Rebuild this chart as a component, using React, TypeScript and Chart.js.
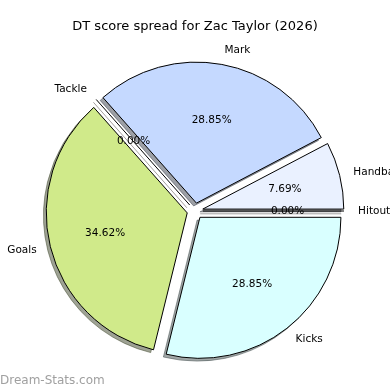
import React, { useEffect, useRef } from "react";
import { Chart, registerables } from "chart.js";

Chart.register(...registerables);

const TITLE = "DT score spread for Zac Taylor (2026)";
const WATERMARK = "Dream-Stats.com";
// Slices listed clockwise on screen starting at 3 o'clock
const categories = ["Kicks", "Goals", "Tackle", "Mark", "Handball", "Hitout"];
const values = [7.5, 9, 0, 7.5, 2, 0];
const colors = ["#d9ffff", "#d0ea8a", "#f2d4d4", "#c5d9ff", "#eaf1ff", "#e4e4e4"];

const EXPLODE = 8;
const SHADOW = 2.8;
const FONT = "'DejaVu Sans', sans-serif";

function hexToRgb(h: string) {
  const n = parseInt(h.slice(1), 16);
  return [(n >> 16) & 255, (n >> 8) & 255, n & 255];
}

const piePlugin = {
  id: "mplPie",
  beforeDatasetsDraw(chart: any) {
    const ctx = chart.ctx as CanvasRenderingContext2D;
    const arcs = chart.getDatasetMeta(0).data as any[];
    // shadows
    arcs.forEach((el, i) => {
      const { x, y, startAngle, endAngle, outerRadius } = el.getProps(
        ["x", "y", "startAngle", "endAngle", "outerRadius"],
        true
      );
      const mid = (startAngle + endAngle) / 2;
      const cx = x + Math.cos(mid) * EXPLODE - SHADOW;
      const cy = y + Math.sin(mid) * EXPLODE + SHADOW;
      const [r, g, b] = hexToRgb(colors[i]);
      const col = `rgba(${Math.round(0.3 * r)},${Math.round(0.3 * g)},${Math.round(0.3 * b)},0.5)`;
      ctx.save();
      ctx.beginPath();
      ctx.moveTo(cx, cy);
      if (endAngle > startAngle) {
        ctx.arc(cx, cy, outerRadius, startAngle, endAngle);
        ctx.closePath();
        ctx.fillStyle = col;
        ctx.fill();
      } else {
        ctx.lineTo(cx + Math.cos(startAngle) * outerRadius, cy + Math.sin(startAngle) * outerRadius);
      }
      ctx.strokeStyle = col;
      ctx.lineWidth = 1;
      ctx.lineJoin = "miter";
      ctx.stroke();
      ctx.restore();
    });
    // wedges
    arcs.forEach((el) => {
      const { x, y, startAngle, endAngle, outerRadius } = el.getProps(
        ["x", "y", "startAngle", "endAngle", "outerRadius"],
        true
      );
      const mid = (startAngle + endAngle) / 2;
      const dx = Math.cos(mid) * EXPLODE;
      const dy = Math.sin(mid) * EXPLODE;
      ctx.save();
      if (endAngle > startAngle) {
        ctx.translate(dx, dy);
        el.draw(ctx);
      } else {
        ctx.beginPath();
        ctx.moveTo(x + dx, y + dy);
        ctx.lineTo(x + dx + Math.cos(startAngle) * outerRadius, y + dy + Math.sin(startAngle) * outerRadius);
        ctx.strokeStyle = "#000";
        ctx.lineWidth = 1;
        ctx.stroke();
      }
      ctx.restore();
    });
    return false;
  },
  afterDraw(chart: any) {
    const ctx = chart.ctx as CanvasRenderingContext2D;
    const arcs = chart.getDatasetMeta(0).data as any[];
    const total = values.reduce((a, b) => a + b, 0);
    ctx.save();
    ctx.fillStyle = "#000";
    ctx.font = `10.5px ${FONT}`;
    ctx.textBaseline = "middle";
    arcs.forEach((el, i) => {
      const { x, y, startAngle, endAngle, outerRadius } = el.getProps(
        ["x", "y", "startAngle", "endAngle", "outerRadius"],
        true
      );
      const mid = (startAngle + endAngle) / 2;
      const cx = x + Math.cos(mid) * EXPLODE;
      const cy = y + Math.sin(mid) * EXPLODE;
      const c = Math.cos(mid);
      const s = Math.sin(mid);
      ctx.textAlign = c > 0 ? "left" : "right";
      ctx.fillText(categories[i], cx + c * outerRadius * 1.1, cy + s * outerRadius * 1.1);
      ctx.textAlign = "center";
      const pct = ((values[i] / total) * 100).toFixed(2) + "%";
      ctx.fillText(pct, cx + c * outerRadius * 0.6, cy + s * outerRadius * 0.6);
    });
    // title
    ctx.textAlign = "center";
    ctx.textBaseline = "alphabetic";
    ctx.font = `13px ${FONT}`;
    ctx.fillText(TITLE, 195, 30);
    // watermark
    ctx.textAlign = "left";
    ctx.fillStyle = "#a0a0a0";
    ctx.font = `12px ${FONT}`;
    ctx.fillText(WATERMARK, 0, 384);
    ctx.restore();
  },
};

export default function App() {
  const ref = useRef<HTMLCanvasElement>(null);
  useEffect(() => {
    if (!ref.current) return;
    const chart = new Chart(ref.current, {
      type: "pie",
      data: {
        labels: categories,
        datasets: [
          {
            data: values,
            backgroundColor: colors,
            borderColor: "#000",
            borderWidth: 1,
            borderJoinStyle: "miter",
          } as any,
        ],
      },
      options: {
        responsive: false,
        animation: false,
        events: [],
        rotation: 90,
        radius: 141,
        layout: { padding: { left: 20, right: 20, top: 40, bottom: 8 } },
        plugins: {
          legend: { display: false },
          tooltip: { enabled: false },
          title: { display: false },
        },
      } as any,
      plugins: [piePlugin],
    });
    return () => chart.destroy();
  }, []);
  return (
    <div style={{ position: "absolute", left: 0, top: 0, width: 390, height: 390, background: "#fff" }}>
      <canvas ref={ref} width={390} height={390} style={{ display: "block" }} />
    </div>
  );
}
